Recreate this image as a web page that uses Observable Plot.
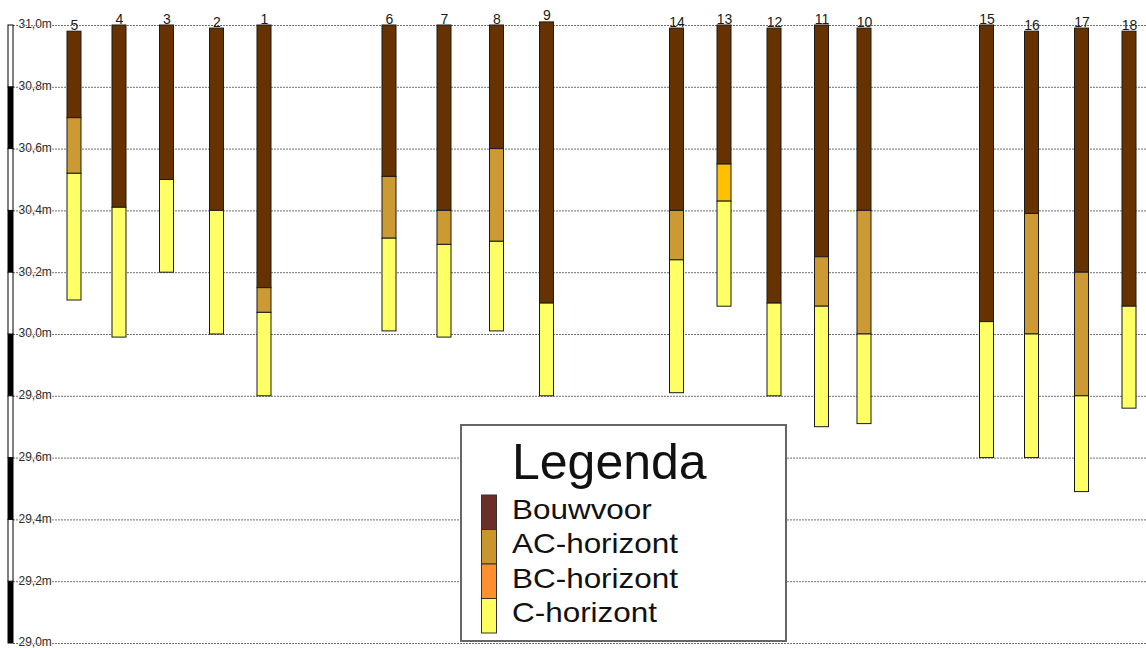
<!DOCTYPE html>
<html>
<head>
<meta charset="utf-8">
<script src="https://cdn.jsdelivr.net/npm/d3@7"></script>
<script src="https://cdn.jsdelivr.net/npm/@observablehq/plot@0.6"></script>
<style>
  html, body { margin: 0; padding: 0; background: #fff; }
  #wrap { position: relative; width: 1146px; height: 648px; overflow: hidden; font-family: "Liberation Sans", Arial, sans-serif; }
  #legend { position: absolute; left: 460px; top: 424px; }
</style>
</head>
<body>
<div id="wrap"></div>
<script>
// Boringen (volgorde zoals in de doorsnede)
const boringen = ["5","4","3","2","1","6","7","8","9","14","13","12","11","10","15","16","17","18"];
// Afstand langs de raai (geschat)
const afstand = [0, 9, 18.5, 28.5, 38, 63, 74, 84.5, 94.5, 120.5, 130, 140, 149.5, 158, 182.5, 191.5, 201.5, 211];
// Hoogte maaiveld (m)
const maaiveld = [30.98, 31.00, 31.00, 30.99, 31.00, 31.00, 31.00, 31.00, 31.01, 30.99, 31.00, 30.99, 31.00, 30.99, 31.00, 30.98, 30.99, 30.98];
// Onderkant per horizont (m); null = niet aanwezig
const bouwvoorOnder = [30.70, 30.41, 30.50, 30.40, 30.15, 30.51, 30.40, 30.60, 30.10, 30.40, 30.55, 30.10, 30.25, 30.40, 30.04, 30.39, 30.20, 30.09];
const acOnder       = [30.52, null, null, null, 30.07, 30.31, 30.29, 30.30, null, 30.24, null, null, 30.09, 30.00, null, 30.00, 29.80, null];
const bcOnder       = [null, null, null, null, null, null, null, null, null, null, 30.43, null, null, null, null, null, null, null];
const cOnder        = [30.11, 29.99, 30.20, 30.00, 29.80, 30.01, 29.99, 30.01, 29.80, 29.81, 30.09, 29.80, 29.70, 29.71, 29.60, 29.60, 29.49, 29.76];

const horizonten = ["Bouwvoor", "AC-horizont", "BC-horizont", "C-horizont"];
const kleurBoring = ["#663300", "#CC9933", "#FFC000", "#FFFF66"];
const kleurLegenda = ["#6B2F2A", "#C9962E", "#FF9030", "#FFFF60"];
const hoogteTicks = [29.0, 29.2, 29.4, 29.6, 29.8, 30.0, 30.2, 30.4, 30.6, 30.8, 31.0];

// Tabellen opbouwen
const boringTabel = boringen.map((b, i) => ({boring: b, afstand: afstand[i], maaiveld: maaiveld[i]}));
const lagen = [];
boringen.forEach((b, i) => {
  let boven = maaiveld[i];
  [bouwvoorOnder, acOnder, bcOnder, cOnder].forEach((arr, k) => {
    const onder = arr[i];
    if (onder != null) {
      lagen.push({boring: b, afstand: afstand[i], horizont: horizonten[k], boven, onder});
      boven = onder;
    }
  });
});
const blokken = d3.pairs(hoogteTicks).map(([a, b], i) => ({onder: a, boven: b, wit: i % 2 === 1}));

const xDomain = [-12.2, 214.4];
const xmin = xDomain[0];
const fmt = d => d.toFixed(1).replace(".", ",") + "m";

const plot = Plot.plot({
  width: 1146,
  height: 648,
  marginLeft: 13,
  marginRight: 0,
  marginTop: 25,
  marginBottom: 5,
  x: {domain: xDomain, axis: null},
  y: {domain: [d3.min(hoogteTicks), d3.max(hoogteTicks)], axis: null},
  color: {domain: horizonten, range: kleurBoring},
  style: {fontFamily: "'Liberation Sans', Arial, sans-serif", background: "white", overflow: "visible"},
  marks: [
    Plot.ruleY(hoogteTicks, {stroke: "#6f6f6f", strokeWidth: 1, strokeDasharray: "2,1"}),
    Plot.rect(blokken.filter(d => !d.wit), {x1: () => xmin, x2: () => xmin, y1: "onder", y2: "boven", fill: "black", stroke: "black", strokeWidth: 1, insetLeft: -5, insetRight: 0}),
    Plot.rect(blokken.filter(d => d.wit), {x1: () => xmin, x2: () => xmin, y1: "onder", y2: "boven", fill: "white", stroke: "black", strokeWidth: 1, insetLeft: -5, insetRight: 0}),
    Plot.text(hoogteTicks, {x: () => xmin, y: d => d, text: fmt, textAnchor: "start", dx: 5, dy: -1, fontSize: 12, fill: "#2a2a2a", stroke: "white", strokeWidth: 1.5}),
    Plot.rect(lagen, {x1: "afstand", x2: "afstand", y1: "onder", y2: "boven", fill: "horizont", stroke: "#1a1a1a", strokeWidth: 1, insetLeft: -7, insetRight: -7}),
    Plot.text(boringTabel, {x: "afstand", y: "maaiveld", text: "boring", lineAnchor: "bottom", dy: -2, fontSize: 14, fill: "#1a1a1a"})
  ]
});
document.getElementById("wrap").appendChild(plot);

// Legenda
const lg = d3.select("#wrap").append("svg")
  .attr("id", "legend").attr("width", 327).attr("height", 218)
  .style("font-family", "'Liberation Sans', Arial, sans-serif");
lg.append("rect").attr("x", 1).attr("y", 1).attr("width", 325).attr("height", 216)
  .attr("fill", "white").attr("stroke", "#666").attr("stroke-width", 2);
lg.append("text").attr("x", 52).attr("y", 55).attr("font-size", 50).attr("fill", "#111").text("Legenda");
horizonten.forEach((h, i) => {
  const y0 = 71 + i * 34.5;
  lg.append("rect").attr("x", 21.5).attr("y", y0).attr("width", 15).attr("height", 34.5)
    .attr("fill", kleurLegenda[i]).attr("stroke", "#333").attr("stroke-width", 1);
  lg.append("text").attr("transform", `translate(52,${95 + i * 34.3}) scale(1.165,1)`)
    .attr("font-size", 27).attr("fill", "#111").text(h);
});
</script>
</body>
</html>
